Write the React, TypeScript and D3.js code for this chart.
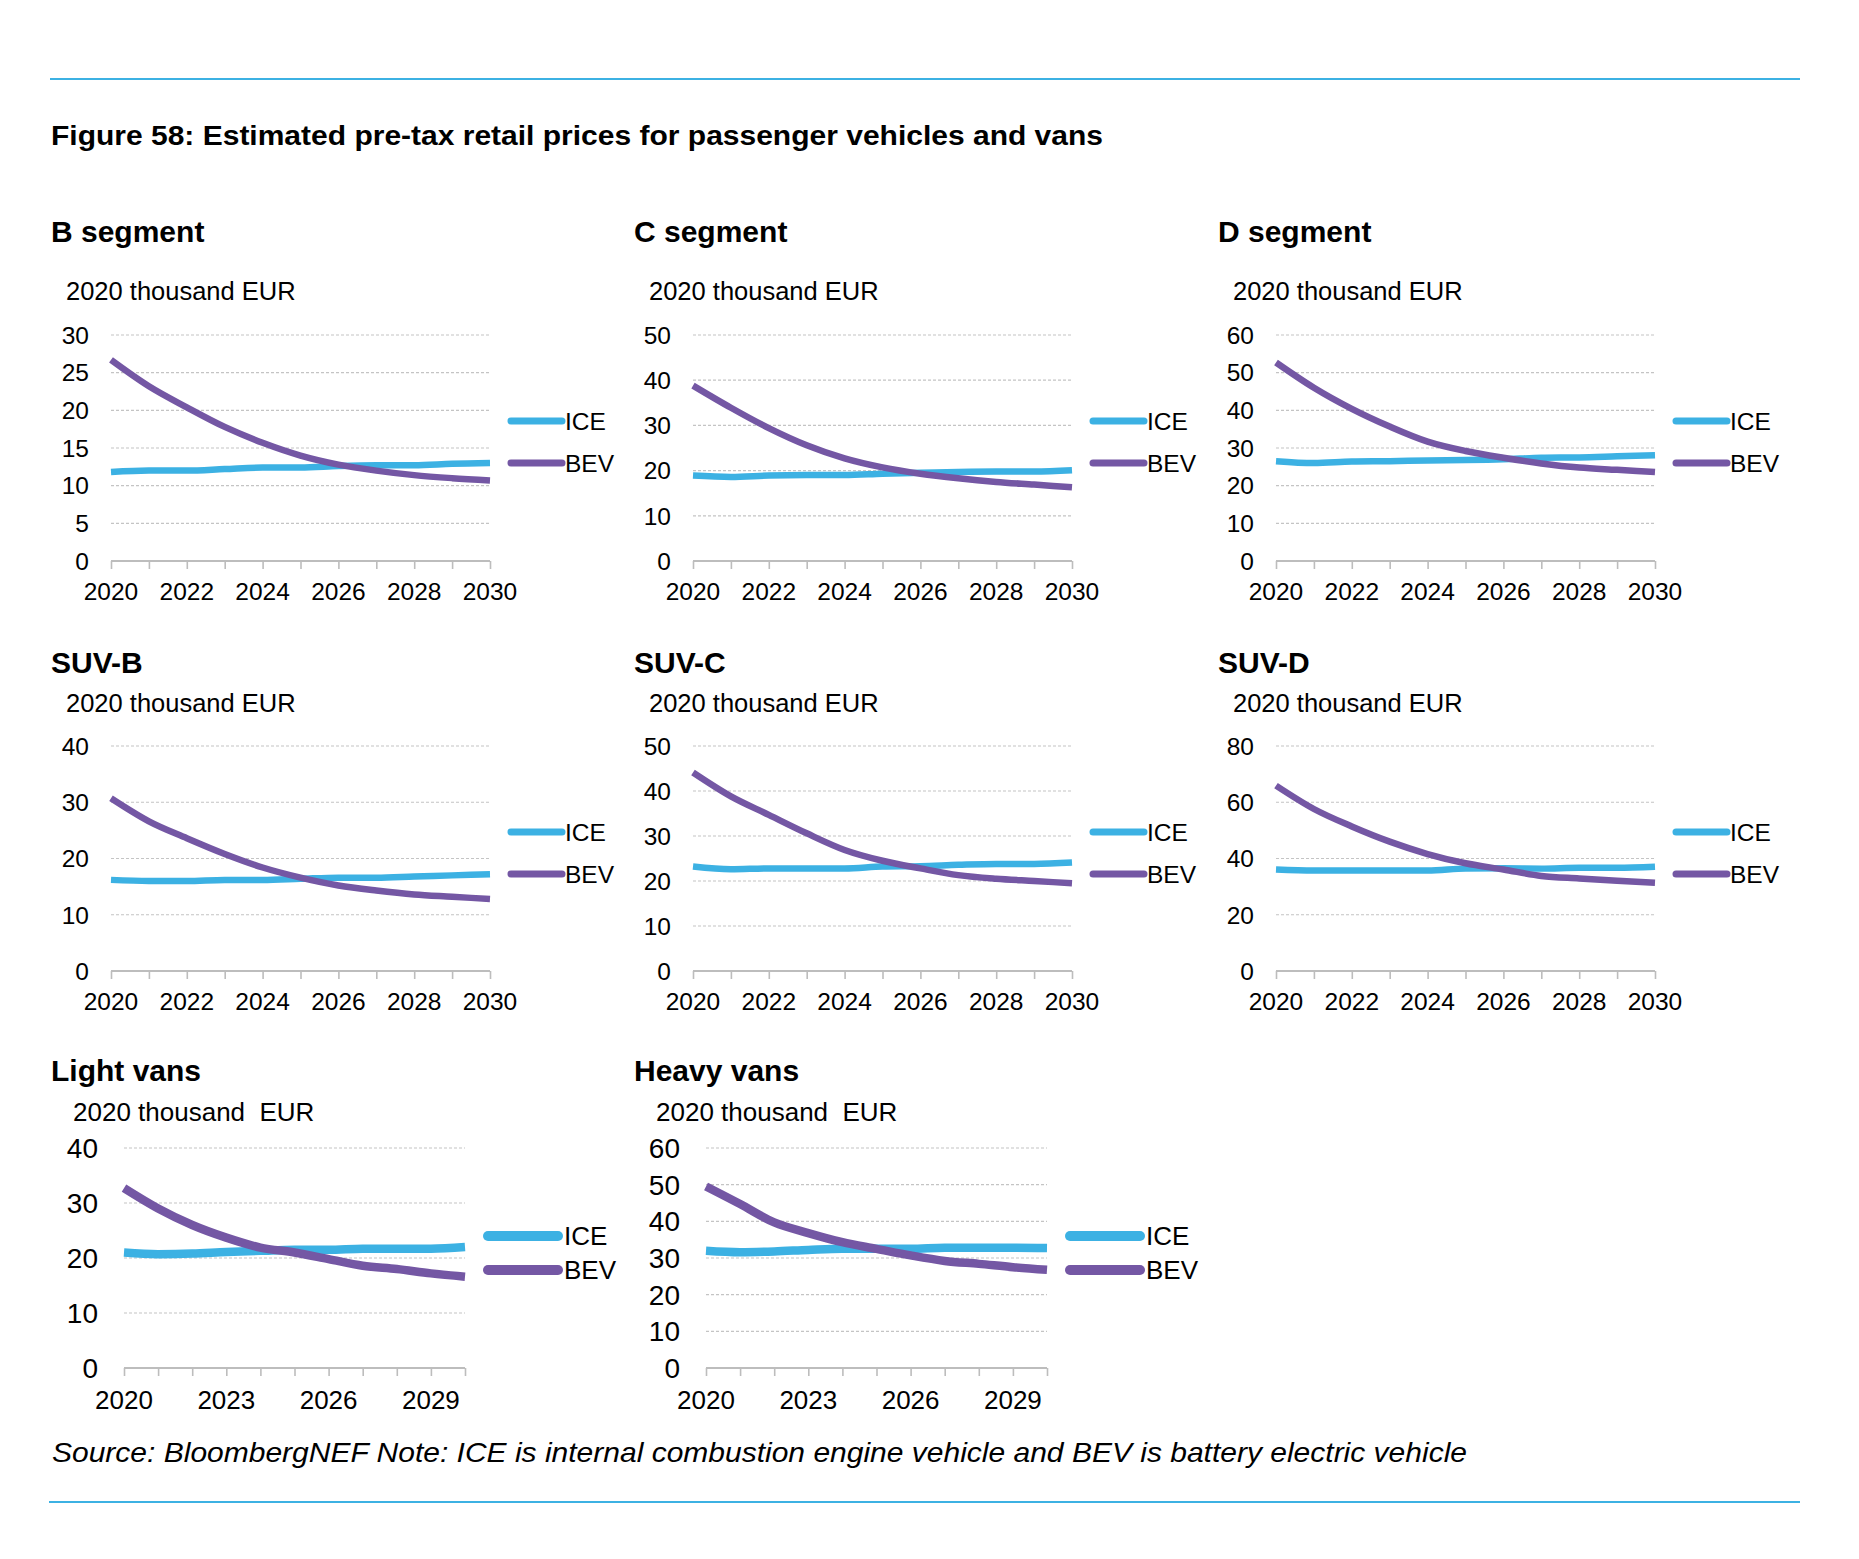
import React, { useEffect, useRef } from 'react';
import * as d3 from 'd3';

// years on the x axis of every panel
const years = [2020, 2021, 2022, 2023, 2024, 2025, 2026, 2027, 2028, 2029, 2030];

// values (2020 thousand EUR)
const bSegIce = [11.8, 12.0, 12.0, 12.2, 12.4, 12.4, 12.6, 12.7, 12.7, 12.9, 13.0];
const bSegBev = [26.7, 23.2, 20.4, 17.8, 15.7, 14.0, 12.8, 12.0, 11.4, 11.0, 10.7];
const cSegIce = [18.9, 18.6, 18.9, 19.0, 19.0, 19.3, 19.5, 19.7, 19.8, 19.8, 20.1];
const cSegBev = [38.8, 33.9, 29.4, 25.6, 22.7, 20.7, 19.3, 18.3, 17.5, 16.9, 16.3];
const dSegIce = [26.5, 26.0, 26.4, 26.5, 26.7, 26.8, 27.0, 27.4, 27.5, 27.8, 28.1];
const dSegBev = [52.7, 46.0, 40.4, 35.7, 31.7, 29.2, 27.4, 25.9, 24.8, 24.2, 23.6];
const suvBIce = [16.2, 16.0, 16.0, 16.2, 16.2, 16.4, 16.6, 16.6, 16.8, 17.0, 17.2];
const suvBBev = [30.7, 26.6, 23.6, 20.8, 18.4, 16.6, 15.2, 14.3, 13.6, 13.2, 12.8];
const suvCIce = [23.2, 22.6, 22.8, 22.8, 22.8, 23.2, 23.3, 23.6, 23.8, 23.8, 24.1];
const suvCBev = [44.1, 38.8, 34.7, 30.6, 26.9, 24.5, 22.8, 21.3, 20.5, 20.0, 19.5];
const suvDIce = [36.1, 35.7, 35.7, 35.7, 35.7, 36.4, 36.5, 36.4, 36.7, 36.7, 37.1];
const suvDBev = [65.9, 57.6, 51.4, 46.0, 41.6, 38.3, 36.1, 33.8, 32.9, 32.1, 31.4];
const lightVanIce = [21.0, 20.7, 20.8, 21.1, 21.3, 21.5, 21.5, 21.7, 21.7, 21.7, 22.0];
const lightVanBev = [32.7, 29.0, 26.0, 23.7, 21.9, 21.0, 19.8, 18.6, 18.0, 17.2, 16.6];
const heavyVanIce = [32.0, 31.6, 31.8, 32.2, 32.5, 32.5, 32.5, 32.8, 32.8, 32.8, 32.7];
const heavyVanBev = [49.5, 44.7, 39.7, 36.8, 34.3, 32.5, 30.7, 29.2, 28.4, 27.5, 26.8];

// axis ticks
const ticks30by5 = [0, 5, 10, 15, 20, 25, 30];
const ticks40by10 = [0, 10, 20, 30, 40];
const ticks50by10 = [0, 10, 20, 30, 40, 50];
const ticks60by10 = [0, 10, 20, 30, 40, 50, 60];
const ticks80by20 = [0, 20, 40, 60, 80];
const yearLabelsEven = [2020, 2022, 2024, 2026, 2028, 2030];
const yearLabelsVans = [2020, 2023, 2026, 2029];

const panelTitles = ['B segment', 'C segment', 'D segment', 'SUV-B', 'SUV-C', 'SUV-D', 'Light vans', 'Heavy vans'];
const unitLabel = '2020 thousand EUR';
const unitLabelVans = '2020 thousand  EUR';
const seriesNames = ['ICE', 'BEV'];

const ICE_COLOR = '#3cb1e3';
const BEV_COLOR = '#7457a4';
const FONT = "'Liberation Sans', Arial, Helvetica, sans-serif";

interface Panel {
  title: string;
  unit: string;
  ice: number[];
  bev: number[];
  yTicks: number[];
  xLabels: number[];
  // layout
  titleX: number;
  titleY: number;
  unitY: number;
  left: number;
  right: number;
  top: number;
  bottom: number;
  vans: boolean;
}

const colTitleX = [51, 634, 1218];
const colLeft = [111, 693, 1276];
const rowTitleY = [242, 673, 1081];
const rowUnitY = [300, 712, 1121];
const rowTop = [335, 746, 1148];
const rowBottom = [561, 971, 1368];

const mk = (i: number, ice: number[], bev: number[], yTicks: number[]): Panel => {
  const row = Math.floor(i / 3);
  const col = i % 3;
  const vans = row === 2;
  const left = vans ? [124, 706][col] : colLeft[col];
  return {
    title: panelTitles[i],
    unit: vans ? unitLabelVans : unitLabel,
    ice,
    bev,
    yTicks,
    xLabels: vans ? yearLabelsVans : yearLabelsEven,
    titleX: colTitleX[col],
    titleY: rowTitleY[row],
    unitY: rowUnitY[row],
    left,
    right: vans ? left + 341 : left + 379,
    top: rowTop[row],
    bottom: rowBottom[row],
    vans,
  };
};

const panels: Panel[] = [
  mk(0, bSegIce, bSegBev, ticks30by5),
  mk(1, cSegIce, cSegBev, ticks50by10),
  mk(2, dSegIce, dSegBev, ticks60by10),
  mk(3, suvBIce, suvBBev, ticks40by10),
  mk(4, suvCIce, suvCBev, ticks50by10),
  mk(5, suvDIce, suvDBev, ticks80by20),
  mk(6, lightVanIce, lightVanBev, ticks40by10),
  mk(7, heavyVanIce, heavyVanBev, ticks60by10),
];

const WIDTH = 1859;
const HEIGHT = 1559;

export default function App() {
  const svgRef = useRef<SVGSVGElement>(null);

  useEffect(() => {
    if (!svgRef.current) return;
    const svg = d3.select(svgRef.current);
    svg.selectAll('*').remove();

    svg.append('rect').attr('width', WIDTH).attr('height', HEIGHT).attr('fill', '#fff');

    // rules top and bottom
    svg.append('line')
      .attr('x1', 50).attr('x2', 1800).attr('y1', 79).attr('y2', 79)
      .attr('stroke', ICE_COLOR).attr('stroke-width', 2);
    svg.append('line')
      .attr('x1', 49).attr('x2', 1800).attr('y1', 1502).attr('y2', 1502)
      .attr('stroke', ICE_COLOR).attr('stroke-width', 2);

    svg.append('text')
      .attr('x', 51).attr('y', 145)
      .attr('textLength', 1052).attr('lengthAdjust', 'spacingAndGlyphs')
      .style('font-family', FONT).style('font-weight', 'bold').style('font-size', '28.5px')
      .text('Figure 58: Estimated pre-tax retail prices for passenger vehicles and vans');

    svg.append('text')
      .attr('x', 52).attr('y', 1462)
      .attr('textLength', 1415).attr('lengthAdjust', 'spacingAndGlyphs')
      .style('font-family', FONT).style('font-style', 'italic').style('font-size', '28.5px')
      .text('Source: BloombergNEF Note: ICE is internal combustion engine vehicle and BEV is battery electric vehicle');

    panels.forEach((p) => {
      const g = svg.append('g');
      const tickFont = p.vans ? 26 : 24.5;
      const yTickFont = p.vans ? 28 : 24.5;

      g.append('text')
        .attr('x', p.titleX).attr('y', p.titleY)
        .style('font-family', FONT).style('font-weight', 'bold').style('font-size', '30px')
        .text(p.title);

      g.append('text')
        .attr('x', p.titleX + (p.vans ? 22 : 15)).attr('y', p.unitY)
        .style('font-family', FONT).style('font-size', p.vans ? '26px' : '25.5px')
        .style('white-space', 'pre')
        .text(p.unit);

      const x = d3.scaleLinear().domain([2020, 2030]).range([p.left, p.right]);
      const yMax = d3.max(p.yTicks) || 0;
      const y = d3.scaleLinear().domain([0, yMax]).range([p.bottom, p.top]);

      // grid
      g.selectAll('.grid')
        .data(p.yTicks.filter((t) => t > 0))
        .enter().append('line')
        .attr('x1', p.left).attr('x2', p.right)
        .attr('y1', (d) => y(d)).attr('y2', (d) => y(d))
        .attr('stroke', '#c4c4c4').attr('stroke-width', 1.2)
        .attr('stroke-dasharray', '3,2');

      // y labels
      g.selectAll('.ylab')
        .data(p.yTicks)
        .enter().append('text')
        .attr('x', p.left - (p.vans ? 26 : 22))
        .attr('y', (d) => y(d))
        .attr('dy', '0.36em')
        .attr('text-anchor', 'end')
        .style('font-family', FONT).style('font-size', `${yTickFont}px`)
        .text((d) => d);

      // x axis
      const xAxis = g.append('g')
        .attr('transform', `translate(0, ${p.bottom})`)
        .call(d3.axisBottom(x).tickValues(years).tickSize(8).tickFormat(() => ''));
      xAxis.selectAll('.domain').attr('stroke', '#bdbdbd').attr('stroke-width', 2)
        .attr('d', `M${p.left},0H${p.right}`);
      xAxis.selectAll('.tick line').attr('stroke', '#bdbdbd').attr('stroke-width', 1.6);

      g.selectAll('.xlab')
        .data(p.xLabels)
        .enter().append('text')
        .attr('x', (d) => x(d))
        .attr('y', p.bottom + (p.vans ? 41 : 39))
        .attr('text-anchor', 'middle')
        .style('font-family', FONT).style('font-size', `${tickFont}px`)
        .text((d) => d);

      // series
      const line = d3.line<number>()
        .x((_, i) => x(years[i]))
        .y((d) => y(d))
        .curve(d3.curveMonotoneX);

      const lw = p.vans ? 8.5 : 6.5;
      [[p.ice, ICE_COLOR], [p.bev, BEV_COLOR]].forEach(([vals, color]) => {
        g.append('path')
          .datum(vals as number[])
          .attr('d', line)
          .attr('fill', 'none')
          .attr('stroke', color as string)
          .attr('stroke-width', lw)
          .attr('stroke-linejoin', 'round');
      });

      // legend
      const legY = p.vans ? [88, 122] : [86, 128];
      const l0 = p.vans ? 23 : 21;
      const l1 = p.vans ? 93 : 72;
      const lx = p.vans ? 99 : 75;
      seriesNames.forEach((name, i) => {
        const yy = p.top + legY[i];
        g.append('line')
          .attr('x1', p.right + l0).attr('x2', p.right + l1)
          .attr('y1', yy).attr('y2', yy)
          .attr('stroke', i === 0 ? ICE_COLOR : BEV_COLOR)
          .attr('stroke-width', p.vans ? 10 : 7)
          .attr('stroke-linecap', 'round');
        g.append('text')
          .attr('x', p.right + lx).attr('y', yy)
          .attr('dy', '0.36em')
          .style('font-family', FONT).style('font-size', p.vans ? '26px' : '24.5px')
          .text(name);
      });
    });
  }, []);

  return (
    <svg
      ref={svgRef}
      width={WIDTH}
      height={HEIGHT}
      viewBox={`0 0 ${WIDTH} ${HEIGHT}`}
      style={{ position: 'absolute', left: 0, top: 0, display: 'block' }}
    />
  );
}
